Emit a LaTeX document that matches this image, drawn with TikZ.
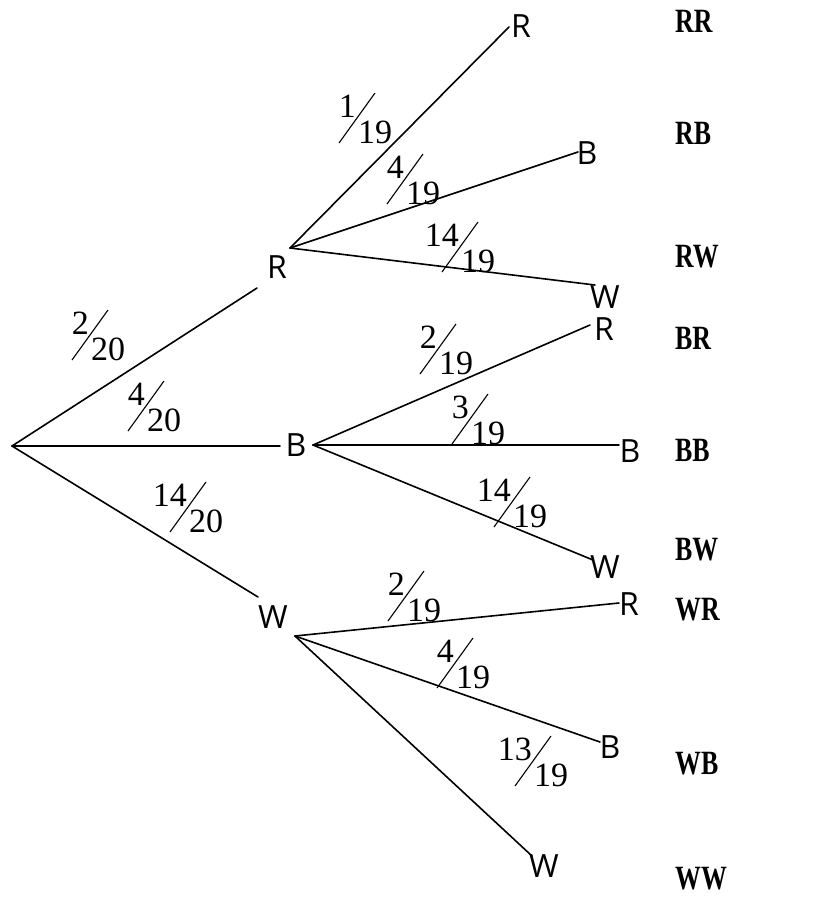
\documentclass[tikz,border=0pt]{standalone}
\usepackage{fontspec}
\setmainfont{Liberation Serif}
\newfontfamily\lblfont{Open Sans}
\newfontfamily\outfont{Liberation Serif}[FakeStretch=0.76]
\usetikzlibrary{calc}
\tikzset{
  branch/.style={line width=1.6pt, line cap=round},
  lbl/.style={inner sep=0pt, font=\lblfont\fontsize{32}{34}\selectfont},
  fnum/.style={inner sep=0pt, font=\fontsize{34}{36}\selectfont},
  slashl/.style={line width=1.1pt},
  outc/.style={inner sep=0pt, anchor=west, font=\outfont\bfseries\fontsize{34}{36}\selectfont}
}
\newcommand\mkfrac[4]{%
  \node[fnum, anchor=base east] (#1n) at ($(#2)+(-1,-1)$) {#3};
  \node[fnum, anchor=base west] (#1d) at ($(#2)+(1,25)$) {#4};
  \draw[slashl] ($(#2)+(-18,25)$) -- ($(#2)+(18,-25)$);
}
\begin{document}
\begin{tikzpicture}[x=1pt, y=-1pt]
\useasboundingbox (0,0) rectangle (815,898);
% branch points
\coordinate (root) at (12,446);
\coordinate (Rin) at (257,288);  \coordinate (Rout) at (290,248);
\coordinate (Bin) at (280,446);  \coordinate (Bout) at (313,445);
\coordinate (Win) at (258,597);  \coordinate (Wout) at (295,636);
\coordinate (RRe) at (509,27);   \coordinate (RBe) at (578,152);  \coordinate (RWe) at (595,285);
\coordinate (BRe) at (590,325);  \coordinate (BBe) at (619,445);  \coordinate (BWe) at (593,560);
\coordinate (WRe) at (619,603);  \coordinate (WBe) at (600,742);  \coordinate (WWe) at (532,856);
% labels
\node[lbl] (R) at (277,267) {R};
\node[lbl] (B) at (296,445) {B};
\node[lbl] (W) at (273,617) {W};
\node[lbl] (RR) at (521,26) {R};
\node[lbl] (RB) at (587,153) {B};
\node[lbl] (RW) at (605,297) {W};
\node[lbl] (BR) at (604,329) {R};
\node[lbl] (BB) at (630,451) {B};
\node[lbl] (BW) at (605,567) {W};
\node[lbl] (WR) at (629,604) {R};
\node[lbl] (WB) at (610,747) {B};
\node[lbl] (WW) at (544,866) {W};
% branches
\draw[branch] (root) -- (Rin);
\draw[branch] (root) -- (Bin);
\draw[branch] (root) -- (Win);
\draw[branch] (Rout) -- (RRe);
\draw[branch] (Rout) -- (RBe);
\draw[branch] (Rout) -- (RWe);
\draw[branch] (Bout) -- (BRe);
\draw[branch] (Bout) -- (BBe);
\draw[branch] (Bout) -- (BWe);
\draw[branch] (Wout) -- (WRe);
\draw[branch] (Wout) -- (WBe);
\draw[branch] (Wout) -- (WWe);
% probabilities
\coordinate (p1) at (90,335);   \mkfrac{f1}{p1}{2}{20}
\coordinate (p2) at (146,406);  \mkfrac{f2}{p2}{4}{20}
\coordinate (p3) at (188,507);  \mkfrac{f3}{p3}{14}{20}
\coordinate (p4) at (357,118);  \mkfrac{f4}{p4}{1}{19}
\coordinate (p5) at (405,179);  \mkfrac{f5}{p5}{4}{19}
\coordinate (p6) at (460,247);  \mkfrac{f6}{p6}{14}{19}
\coordinate (p7) at (438,349);  \mkfrac{f7}{p7}{2}{19}
\coordinate (p8) at (470,419);  \mkfrac{f8}{p8}{3}{19}
\coordinate (p9) at (512,502);  \mkfrac{f9}{p9}{14}{19}
\coordinate (p10) at (406,596); \mkfrac{f10}{p10}{2}{19}
\coordinate (p11) at (455,663); \mkfrac{f11}{p11}{4}{19}
\coordinate (p12) at (533,761); \mkfrac{f12}{p12}{13}{19}
% outcomes
\node[outc] (oRR) at (675,21) {RR};
\node[outc] (oRB) at (675,133) {RB};
\node[outc] (oRW) at (675,257) {RW};
\node[outc] (oBR) at (675,338) {BR};
\node[outc] (oBB) at (675,450) {BB};
\node[outc] (oBW) at (675,550) {BW};
\node[outc] (oWR) at (675,610) {WR};
\node[outc] (oWB) at (675,764) {WB};
\node[outc] (oWW) at (675,879) {WW};
\end{tikzpicture}
\end{document}
